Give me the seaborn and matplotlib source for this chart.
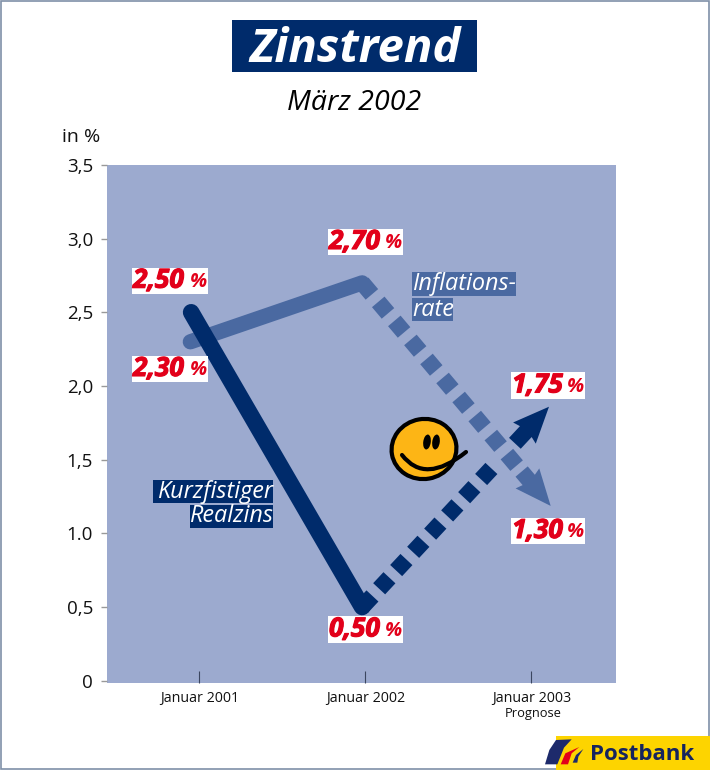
import numpy as np
import matplotlib
matplotlib.use("Agg")
import matplotlib.pyplot as plt
from matplotlib.patches import Rectangle, Ellipse, Polygon, PathPatch
from matplotlib.path import Path
import matplotlib.patheffects as pe
import seaborn as sns

# ---- data ----
periods = ["Januar 2001", "Januar 2002", "Januar 2003"]
sublabel = "Prognose"
inflation_x = [-0.055, 0.98, 2.03]
inflation_y = [2.30, 2.70, 1.30]
real_x = [-0.05, 0.98, 2.015]
real_y = [2.50, 0.50, 1.75]
y_ticks = [0, 0.5, 1.0, 1.5, 2.0, 2.5, 3.0, 3.5]
y_tick_labels = ["0", "0,5", "1.0", "1,5", "2,0", "2,5", "3,0", "3,5"]
value_labels = ["2,50", "2,30", "2,70", "1,75", "1,30", "0,50"]
value_boxes = [(132, 267.5, 208, 294), (132, 356, 208, 382), (328, 229, 403, 255),
               (511, 372, 585, 399), (511, 518, 585, 544), (328, 616, 403, 643)]

NAVY = "#002b6b"
MID = "#4a69a1"
BG = "#9caacf"
RED = "#e2001a"
FONT = "Open Sans"

sns.set_theme(style="white")
plt.rcParams["font.family"] = [FONT, "DejaVu Sans"]

W, H = 710, 777
fig = plt.figure(figsize=(W / 100, H / 100), dpi=100, facecolor="white")
L, R, T, B = 107, 616, 165, 683
ax = fig.add_axes([L / W, 1 - B / H, (R - L) / W, (B - T) / H], facecolor=BG)
ax.set_xlim(-0.557, 2.509)
ax.set_ylim(-0.016, 3.5)
sns.despine(ax=ax, left=True, bottom=True, right=True, top=True)


def series(xs, ys, color, lw, n_dashes):
    sns.lineplot(x=xs[:2], y=ys[:2], color=color, lw=lw, sort=False, ax=ax,
                 solid_capstyle="round", solid_joinstyle="round", zorder=3)
    sns.lineplot(x=xs[1:], y=ys[1:], color=color, lw=11.8, sort=False, ax=ax, zorder=3)
    ln = ax.lines[-1]
    ln.set_linestyle((0, (0.92, 0.6) * (n_dashes - 1) + (0.92, 100)))
    ln.set_dash_capstyle("butt")


series(real_x, real_y, NAVY, 12.0, 8)
series(inflation_x, inflation_y, MID, 11.0, 10)
# long stroke of the real rate goes over the inflation line
ax.lines[0].set_zorder(4)

ax.set_xticks(range(3))
ax.set_xticklabels(periods, fontsize=10.3, color="#111111")
ax.tick_params(axis="x", direction="in", length=8.5, width=0.8, color="#3b4660", pad=5.5, bottom=True)
ax.set_yticks(y_ticks)
ax.set_yticklabels(y_tick_labels, fontsize=13.5, color="#111111")
ax.tick_params(axis="y", direction="out", length=4.5, width=1, color="#999999", pad=5.5, left=True)

# overlay in pixel coordinates
ov = fig.add_axes([0, 0, 1, 1], facecolor="none", zorder=5)
ov.set_xlim(0, W)
ov.set_ylim(H, 0)
ov.axis("off")


def to_px(x, y):
    dx, dy = ax.transData.transform((x, y))
    return np.array([dx, H - dy])


def arrow(xs, ys, color, start, ext=22, neck=34, barb=36, shaft=8, head=15.5):
    a, b = to_px(xs[1], ys[1]), to_px(xs[2], ys[2])
    u = (b - a) / np.linalg.norm(b - a)
    n = np.array([-u[1], u[0]])
    tip = b + u * ext
    pts = [tip, tip - u * barb + n * head, tip - u * neck + n * shaft,
           tip - u * start + n * shaft, tip - u * start - n * shaft,
           tip - u * neck - n * shaft, tip - u * barb - n * head]
    ov.add_patch(Polygon(pts, closed=True, fc=color, ec="none", zorder=2))


arrow(inflation_x, inflation_y, MID, 45)
arrow(real_x, real_y, NAVY, 50)

# frame
ov.add_patch(Rectangle((0.5, 0.5), 708, 768.5, fc="none", ec="#7f90a8", lw=1.2, zorder=1))

# title
ov.add_patch(Rectangle((232, 20), 245, 52, fc=NAVY, ec="none", zorder=2))
ov.text(355, 62.5, "Zinstrend", color="white", fontsize=34, fontweight="bold", style="italic",
        ha="center", va="baseline", zorder=3)
ov.text(354.5, 110, "März 2002", color="black", fontsize=20.5, style="italic", ha="center", va="baseline")
ov.text(81.5, 142, "in %", color="#111111", fontsize=14, ha="center", va="baseline")
ov.text(533, 714, sublabel, color="#111111", fontsize=9.3, ha="center", va="center")

# value labels
heavy = [pe.withStroke(linewidth=0.8, foreground=RED)]
for txt, (x0, y0, x1, y1) in zip(value_labels, value_boxes):
    ov.add_patch(Rectangle((x0, y0), x1 - x0, y1 - y0, fc="white", ec="none", zorder=6))
    cy = (y0 + y1) / 2
    ov.text(x0 + 1, cy - 0.5, txt, color=RED, fontsize=19, fontweight="bold", style="italic",
            ha="left", va="center", zorder=7, path_effects=heavy)
    ov.text(x1 - 0.5, cy + 1, "%", color=RED, fontsize=14.5, fontweight="bold", style="italic",
            ha="right", va="center", zorder=7)

# series names
for txt, (x0, y0, x1, y1), col, ha in [
    ("Kurzfistiger", (153, 480, 273, 503), NAVY, "right"),
    ("Realzins", (190, 505, 273, 528), NAVY, "right"),
    ("Inflations-", (412, 272, 516, 296), MID, "left"),
    ("rate", (412, 298, 453, 321), MID, "left"),
]:
    ov.add_patch(Rectangle((x0, y0), x1 - x0, y1 - y0, fc=col, ec="none", zorder=4))
    ov.text(x1 if ha == "right" else x0, (y0 + y1) / 2, txt, color="white", fontsize=16.8,
            style="italic", ha=ha, va="center", zorder=5)

# smiley
ov.add_patch(Ellipse((424, 449), 65, 60, angle=-10, fc="#fdb515", ec="black", lw=3, zorder=2))
ov.add_patch(Ellipse((427, 442), 7.5, 15, angle=8, fc="black", ec="none", zorder=3))
ov.add_patch(Ellipse((436, 442), 7.5, 15, angle=8, fc="black", ec="none", zorder=3))
smile = Path([(402, 455), (425, 485), (466, 452)], [Path.MOVETO, Path.CURVE3, Path.CURVE3])
ov.add_patch(PathPatch(smile, fc="none", ec="black", lw=3, capstyle="round", zorder=3))

# logo
ov.add_patch(Rectangle((556, 736), 154, 34, fc="#fdd400", ec="none", zorder=3))
def lg(points, col):
    ov.add_patch(Polygon([(540 + x / 3, 725 + y / 3) for x, y in points], closed=True, fc=col, ec="none", zorder=4))
lg([(15, 118), (28, 75), (48, 45), (95, 43), (72, 68), (52, 118)], "#1d2a6b")
lg([(62, 118), (76, 85), (118, 66), (95, 85), (84, 118)], RED)
lg([(98, 113), (108, 90), (130, 72), (115, 95), (112, 113)], "#1d2a6b")
ov.text(642.5, 754, "Postbank", color="#16245e", fontsize=16, fontweight="bold", ha="center", va="center", zorder=4)

fig.savefig("out.png", dpi=100)
